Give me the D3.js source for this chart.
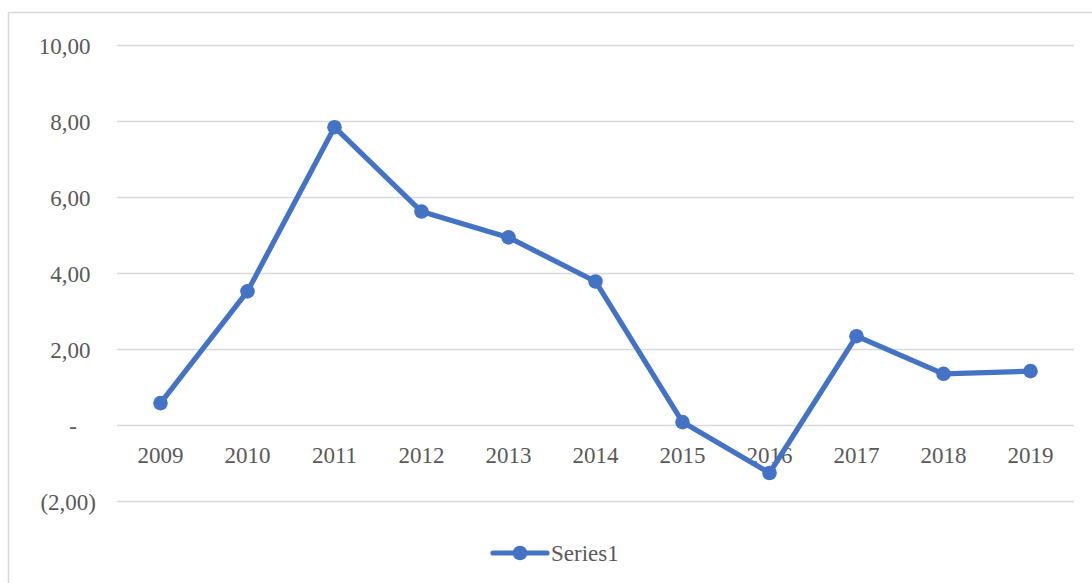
<html>
<head>
  <meta charset="UTF-8">
  <title>Series1</title>
  <script src="https://cdn.jsdelivr.net/npm/d3@7/dist/d3.min.js"></script>
  <style>
    body { margin: 0; background: #fff; }
    text { font-family: "Liberation Serif", "Times New Roman", serif; fill: #595959; }
  </style>
</head>
<body>
<svg width="1092" height="583"></svg>
<script>
var years = ["2009", "2010", "2011", "2012", "2013", "2014", "2015", "2016", "2017", "2018", "2019"];
var values = [0.59, 3.53, 7.85, 5.63, 4.95, 3.79, 0.09, -1.25, 2.35, 1.36, 1.43];
var yTicks = [-2, 0, 2, 4, 6, 8, 10];
var yTickLabels = ["(2,00)", "-", "2,00", "4,00", "6,00", "8,00", "10,00"];
var seriesName = "Series1";

var svg = d3.select("svg");
var blue = "#4472C4";
var fontSize = 23;

// chart frame (right and bottom edges fall outside the picture)
svg.append("rect")
  .attr("x", 8.5).attr("y", 12.5)
  .attr("width", 1100).attr("height", 600)
  .attr("fill", "none").attr("stroke", "#d9d9d9").attr("stroke-width", 1.5);

var x = d3.scaleBand().domain(years).range([117, 1074]);
var y = d3.scaleLinear().domain([-2, 10]).range([501.5, 45.5]);

// gridlines
svg.append("g").selectAll("line").data(yTicks).enter().append("line")
  .attr("x1", 117).attr("x2", 1074)
  .attr("y1", function(d) { return y(d); })
  .attr("y2", function(d) { return y(d); })
  .attr("stroke", "#d9d9d9").attr("stroke-width", 1.5);

// y labels, accounting style alignment
svg.append("g").selectAll("text").data(yTicks).enter().append("text")
  .attr("x", function(d, i) {
    var lab = yTickLabels[i];
    if (lab == "-") return 77;
    if (lab.indexOf(")") >= 0) return 96;
    return 90.5;
  })
  .attr("y", function(d) { return y(d); })
  .attr("dy", "0.35em")
  .attr("text-anchor", "end")
  .style("font-size", fontSize + "px")
  .text(function(d, i) { return yTickLabels[i]; });

// x labels sit under the zero line
svg.append("g").selectAll("text").data(years).enter().append("text")
  .attr("x", function(d) { return x(d) + x.bandwidth() / 2; })
  .attr("y", y(0) + 37)
  .attr("text-anchor", "middle")
  .style("font-size", fontSize + "px")
  .text(function(d) { return d; });

var line = d3.line()
  .x(function(d, i) { return x(years[i]) + x.bandwidth() / 2; })
  .y(function(d) { return y(d); });

svg.append("path")
  .datum(values)
  .attr("d", line)
  .attr("fill", "none")
  .attr("stroke", blue)
  .attr("stroke-width", 5.2)
  .attr("stroke-linejoin", "round");

svg.append("g").selectAll("circle").data(values).enter().append("circle")
  .attr("cx", function(d, i) { return x(years[i]) + x.bandwidth() / 2; })
  .attr("cy", function(d) { return y(d); })
  .attr("r", 7.3)
  .attr("fill", blue);

// legend
var legend = svg.append("g").attr("transform", "translate(493,553)");
legend.append("line")
  .attr("x1", 0).attr("x2", 54).attr("y1", 0).attr("y2", 0)
  .attr("stroke", blue).attr("stroke-width", 5.2).attr("stroke-linecap", "round");
legend.append("circle").attr("cx", 27).attr("cy", 0).attr("r", 7.3).attr("fill", blue);
legend.append("text")
  .attr("x", 58).attr("y", 8)
  .style("font-size", fontSize + "px")
  .text(seriesName);
</script>
</body>
</html>
